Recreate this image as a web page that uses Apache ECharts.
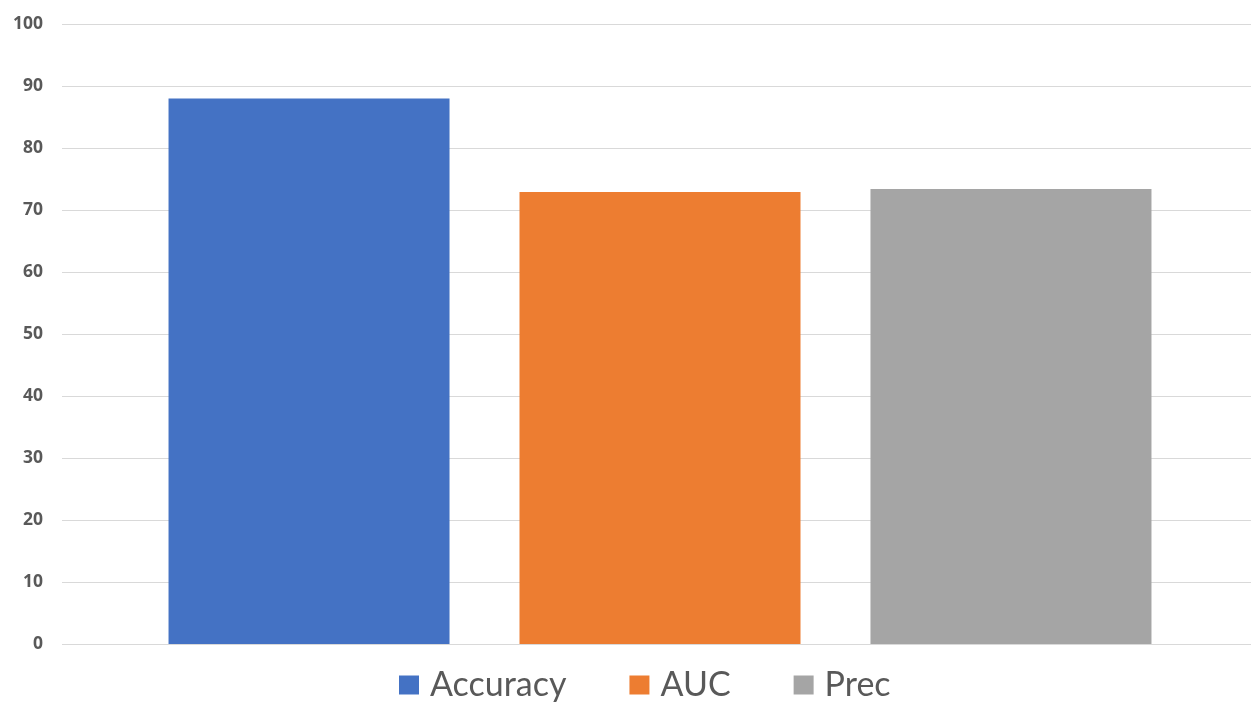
<!DOCTYPE html>
<html>
<head>
<meta charset="utf-8">
<script src="https://cdn.jsdelivr.net/npm/echarts@6/dist/echarts.min.js"></script>
<style>
  html, body { margin: 0; padding: 0; background: #fff; overflow: hidden; }
  #chart { width: 1258px; height: 704px; }
</style>
</head>
<body>
<div id="chart"></div>
<script>
// Model scores (percent)
const categories = ['Score'];
const seriesNames = ['Accuracy', 'AUC', 'Prec'];
const accuracyValues = [88.0];
const aucValues = [72.9];
const precValues = [73.4];
const yTicks = { min: 0, max: 100, interval: 10 };
const colors = ['#4472C4', '#ED7D31', '#A5A5A5'];

const seriesValues = [accuracyValues, aucValues, precValues];

const chart = echarts.init(document.getElementById('chart'));
chart.setOption({
  animation: false,
  color: colors,
  grid: { left: 62, right: 0, top: 24, bottom: 60, containLabel: false },
  legend: {
    data: seriesNames,
    left: 399,
    top: 668,
    padding: 0,
    icon: 'rect',
    itemWidth: 20,
    itemHeight: 19,
    itemGap: 63,
    textStyle: { fontFamily: 'Lato', fontSize: 34, color: '#595959', padding: [0, 0, 0, 6] }
  },
  xAxis: {
    type: 'category',
    data: categories,
    axisLine: { show: false },
    axisTick: { show: false },
    axisLabel: { show: false }
  },
  yAxis: {
    type: 'value',
    min: yTicks.min,
    max: yTicks.max,
    interval: yTicks.interval,
    axisLine: { show: false },
    axisTick: { show: false },
    splitLine: { lineStyle: { color: '#D9D9D9', width: 1 } },
    axisLabel: {
      color: '#595959',
      fontWeight: 'bold',
      fontSize: 17.5,
      fontFamily: 'Open Sans',
      margin: 19
    }
  },
  series: seriesNames.map((name, i) => ({
    name: name,
    type: 'bar',
    data: seriesValues[i],
    barWidth: 281,
    barGap: '24.9%'
  }))
});
</script>
</body>
</html>
